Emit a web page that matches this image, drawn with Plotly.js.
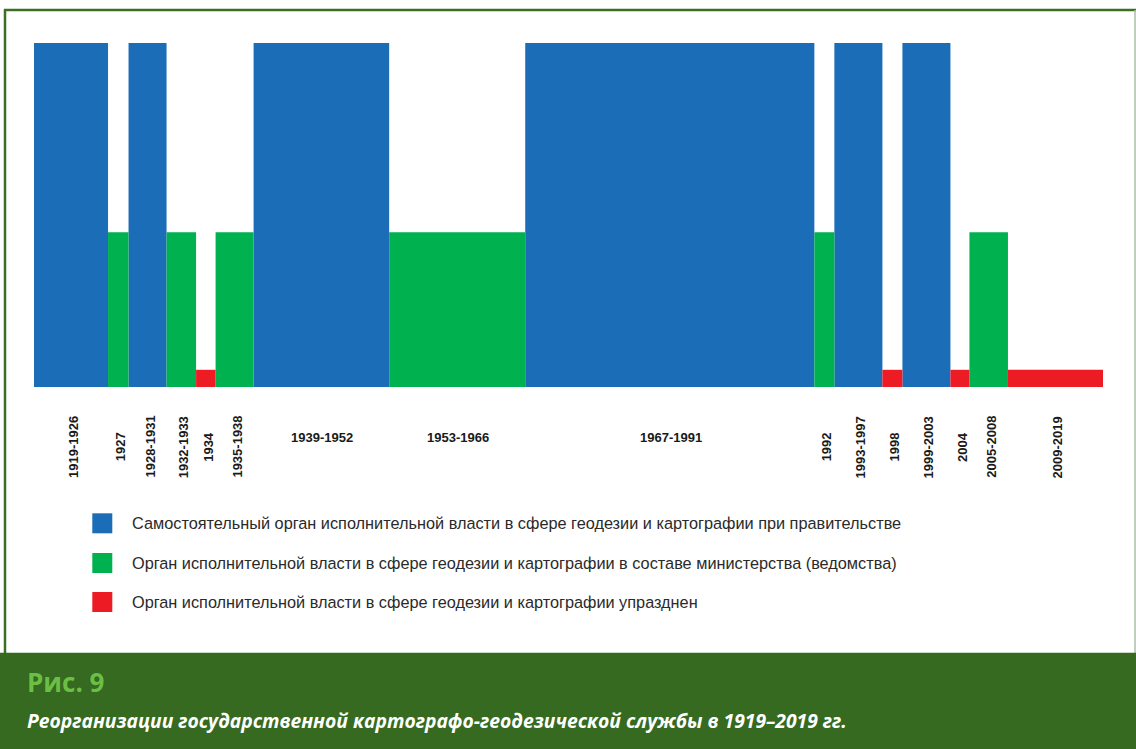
<!DOCTYPE html>
<html>
<head>
<meta charset="utf-8">
<script src="https://cdn.plot.ly/plotly-3.0.1.min.js"></script>
<style>
  html, body { margin: 0; padding: 0; background: #ffffff; }
  #chart { width: 1136px; height: 749px; }
</style>
</head>
<body>
<div id="chart"></div>
<script>
// ---- data ----
const periods = ["1919-1926","1927","1928-1931","1932-1933","1934","1935-1938","1939-1952","1953-1966","1967-1991","1992","1993-1997","1998","1999-2003","2004","2005-2008","2009-2019"];
// relative display width of each period on the time strip
const spans = [7.4, 2.05, 3.8, 2.95, 1.95, 3.8, 13.55, 13.6, 28.9, 2.0, 4.8, 2.0, 4.8, 1.9, 3.85, 9.5];
// status of the service in each period: 0 = independent, 1 = within ministry, 2 = abolished
const status = [0,1,0,1,2,1,0,1,0,1,0,2,0,2,1,2];
const statusNames = [
  "Самостоятельный орган исполнительной власти в сфере геодезии и картографии при правительстве",
  "Орган исполнительной власти в сфере геодезии и картографии в составе министерства (ведомства)",
  "Орган исполнительной власти в сфере геодезии и картографии упразднен"
];
const statusLevel = [100, 45, 5];
const figLabel = "Рис. 9";
const caption = "Реорганизации государственной картографо-геодезической службы в 1919–2019 гг.";

// ---- styles ----
const colors = ["#1c6db8", "#00b14f", "#ed1c24"];
const W = 1136, Hh = 749;
const ml = 34, mr = 33, mt = 43, mb = 362;
const pw = W - ml - mr, ph = Hh - mt - mb;
const px = v => (v - ml) / pw;          // pixel x -> paper
const py = v => (Hh - mb - v) / ph;     // pixel y -> paper

// cumulative positions
const starts = [];
let acc = 0;
spans.forEach(s => { starts.push(acc); acc += s; });
const total = acc;
const centers = spans.map((s, i) => starts[i] + s / 2);

const traces = [0, 1, 2].map(k => {
  const idx = status.map((s, i) => s === k ? i : -1).filter(i => i >= 0);
  return {
    type: "bar",
    x: idx.map(i => centers[i]),
    y: idx.map(i => statusLevel[k]),
    width: idx.map(i => spans[i]),
    name: statusNames[k],
    text: idx.map(i => periods[i]),
    hoverinfo: "text+name",
    textposition: "none",
    marker: { color: colors[k], line: { width: 0 } },
    showlegend: false
  };
});

const annotations = [];
periods.forEach((p, i) => {
  const horiz = spans[i] >= 13;
  annotations.push({
    x: centers[i], xref: "x",
    y: horiz ? py(437) : py(447), yref: "paper",
    text: "<b>" + p + "</b>",
    showarrow: false,
    textangle: horiz ? 0 : -90,
    xanchor: "center", yanchor: "middle",
    xshift: horiz ? 1 : 2,
    font: { family: "Liberation Sans, Arial, sans-serif", size: 13, color: "#1a1a1a" }
  });
});

const shapes = [];
const legY = [523.3, 563, 602];
statusNames.forEach((n, k) => {
  shapes.push({
    type: "rect", xref: "paper", yref: "paper",
    x0: px(92.3), x1: px(112.3), y0: py(legY[k] - 10), y1: py(legY[k] + 10),
    fillcolor: colors[k], line: { width: 0 }
  });
  annotations.push({
    x: px(130), xref: "paper", y: py(legY[k]), yref: "paper",
    text: n, showarrow: false, xanchor: "left", yanchor: "middle",
    font: { family: "Liberation Sans, Arial, sans-serif", size: 16.3, color: "#2a2a2a" }
  });
});

// frame
shapes.push({ type: "line", xref: "paper", yref: "paper", x0: px(4), x1: px(1136), y0: py(10), y1: py(10), line: { color: "#3b6f23", width: 2.5 } });
shapes.push({ type: "line", xref: "paper", yref: "paper", x0: px(5), x1: px(5), y0: py(9), y1: py(653), line: { color: "#3b6f23", width: 2.5 } });
shapes.push({ type: "line", xref: "paper", yref: "paper", x0: px(1135), x1: px(1135), y0: py(10), y1: py(653), line: { color: "#a9bfa4", width: 1.5 } });
// caption band
shapes.push({ type: "rect", xref: "paper", yref: "paper", x0: px(0), x1: px(1136), y0: py(652.7), y1: py(749), fillcolor: "#356a20", line: { width: 0 } });

annotations.push({
  x: px(25), xref: "paper", y: py(702), yref: "paper",
  text: "<b>" + figLabel + "</b>", showarrow: false, xanchor: "left", yanchor: "bottom",
  font: { family: "Open Sans, sans-serif", size: 26, color: "#6cbf45" }
});
annotations.push({
  x: px(25), xref: "paper", y: py(720), yref: "paper",
  text: "<b><i>" + caption + "</i></b>", showarrow: false, xanchor: "left", yanchor: "middle",
  font: { family: "Open Sans, sans-serif", size: 19.3, color: "#ffffff" }
});

const layout = {
  width: W, height: Hh,
  margin: { l: ml, r: mr, t: mt, b: mb, pad: 0 },
  paper_bgcolor: "#ffffff", plot_bgcolor: "rgba(0,0,0,0)",
  barmode: "overlay",
  xaxis: { range: [0, total], visible: false, fixedrange: true },
  yaxis: { range: [0, 100], visible: false, fixedrange: true },
  shapes: shapes,
  annotations: annotations,
  showlegend: false
};

Plotly.newPlot("chart", traces, layout, { displayModeBar: false, staticPlot: true });
</script>
</body>
</html>
